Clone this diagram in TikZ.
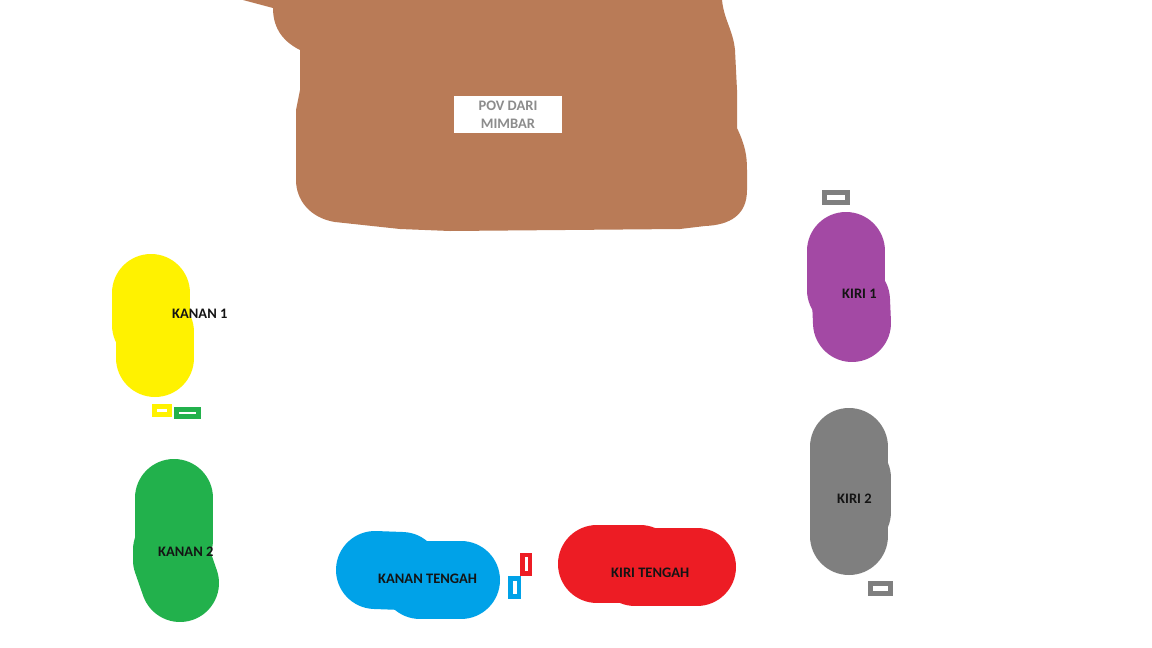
\documentclass[tikz,border=0pt]{standalone}
\usepackage{fontspec}
\setmainfont{Carlito}
\definecolor{mbrown}{RGB}{185,123,87}
\definecolor{myellow}{RGB}{255,242,0}
\definecolor{mgreen}{RGB}{34,177,76}
\definecolor{mpurple}{RGB}{163,73,164}
\definecolor{mgrey}{RGB}{127,127,127}
\definecolor{mblue}{RGB}{0,162,232}
\definecolor{mred}{RGB}{237,28,36}
\definecolor{labtext}{RGB}{20,20,20}
\definecolor{povtext}{RGB}{140,140,140}
\tikzset{
  blob/.style={line width=78pt, line cap=round, line join=round},
  lab/.style={anchor=west, inner sep=0pt, text=labtext, font=\fontsize{14.5}{17}\selectfont\bfseries},
}
\begin{document}
\begin{tikzpicture}[x=1pt,y=-1pt]
\useasboundingbox (0,0) rectangle (1152,648);
\fill[white] (0,0) rectangle (1152,648);
% mimbar
\fill[mbrown] (243,0) -- (722,0) .. controls (724,20) and (733,30) .. (735,50) -- (737,90) -- (737,128)
  .. controls (745,145) and (747,155) .. (747,170) -- (747,190)
  .. controls (747,215) and (730,225) .. (705,226) -- (680,229) -- (450,231) -- (400,229) -- (335,222)
  .. controls (310,218) and (296,200) .. (296,180) -- (296,110) -- (300,90) -- (300,50)
  .. controls (280,40) and (273,25) .. (273,8) -- cycle;
\fill[white] (454,96) rectangle (562,133);
\node[align=center, inner sep=0pt, text=povtext, font=\fontsize{14.5}{18}\selectfont\bfseries] (pov) at (508,114.5) {POV DARI\\MIMBAR};
% blobs
\draw[blob, myellow] (151,293) -- (151,325);
\draw[blob, myellow] (155,332) -- (155,358);
\draw[blob, mgreen] (174,498) -- (174,540);
\draw[blob, mgreen] (172,550) -- (172,560) -- (180,583);
\draw[blob, mpurple] (846,251) -- (846,290);
\draw[blob, mpurple] (851,300) -- (852,323);
\draw[blob, mgrey] (849,447) -- (849,536);
\draw[blob, mgrey] (852,478) -- (852,512);
\draw[blob, mblue] (375,570) -- (402,571);
\draw[blob, mblue] (420,580) -- (461,580);
\draw[blob, mred] (597,564) -- (640,564);
\draw[blob, mred] (635,567) -- (697,567);
% labels
\node[lab] (k1) at (172,314) {KANAN 1};
\node[lab] (k2) at (158,552) {KANAN 2};
\node[lab] (r1) at (842,294) {KIRI 1};
\node[lab] (r2) at (837,499) {KIRI 2};
\node[lab] (kt) at (378,579) {KANAN TENGAH};
\node[lab] (rt) at (611,573) {KIRI TENGAH};
% small markers
\fill[myellow] (152,404) rectangle (171.5,417);
\fill[white] (157,409) rectangle (166.5,412);
\fill[mgreen] (174,407) rectangle (201,419);
\fill[white] (179,412) rectangle (196,414);
\fill[mred] (520,553) rectangle (532,575.5);
\fill[white] (524.5,557) rectangle (527.5,571);
\fill[mblue] (508,576) rectangle (521,599);
\fill[white] (512.5,581) rectangle (516.5,594);
\fill[mgrey] (822,190) rectangle (850,205);
\fill[white] (827,195) rectangle (845,200);
\fill[mgrey] (868,581) rectangle (893,596);
\fill[white] (873,586) rectangle (888,591);
\end{tikzpicture}
\end{document}
